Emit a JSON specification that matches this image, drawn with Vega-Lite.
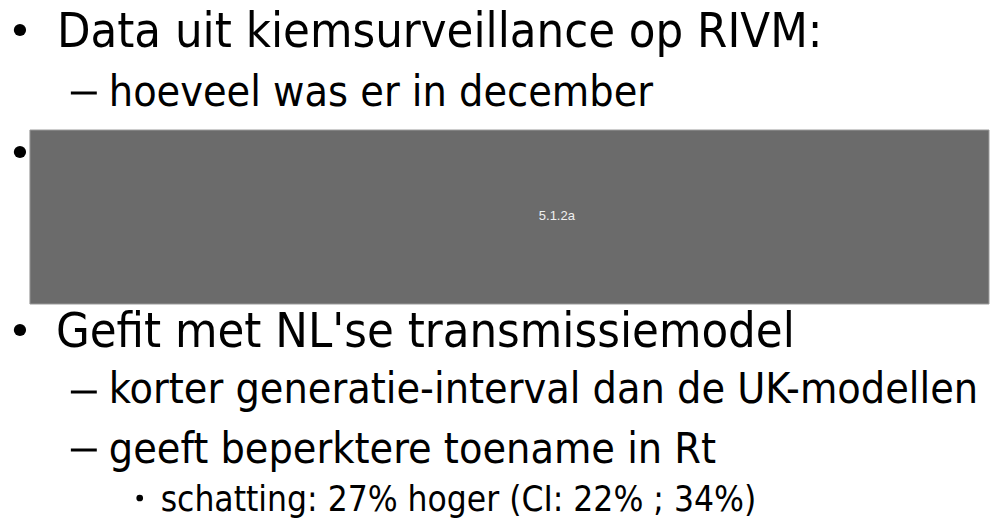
{
  "$schema": "https://vega.github.io/schema/vega-lite/v6.json",
  "width": 990,
  "height": 519,
  "autosize": {"type": "fit", "contains": "padding"},
  "padding": 0,
  "background": "white",
  "config": {"view": {"stroke": null}},
  "datasets": {
    "box": [{"x0": 30, "x1": 991, "y0": 130, "y1": 304, "label": "5.1.2a", "cx": 558, "cy": 216}],
    "lines": [
      {"level": 1, "tx": 57, "base": 47, "text": "Data uit kiemsurveillance op RIVM:"},
      {"level": 2, "tx": 109, "base": 106, "text": "hoeveel was er in december"},
      {"level": 1, "tx": 56, "base": 347, "text": "Gefit met NL'se transmissiemodel"},
      {"level": 2, "tx": 109, "base": 403, "text": "korter generatie-interval dan de UK-modellen"},
      {"level": 2, "tx": 109, "base": 463, "text": "geeft beperktere toename in Rt"},
      {"level": 3, "tx": 161, "base": 511, "text": "schatting: 27% hoger (CI: 22% ; 34%)"}
    ],
    "dashes": [
      {"d0": 71, "d1": 97, "dy": 93},
      {"d0": 71, "d1": 97, "dy": 392},
      {"d0": 71, "d1": 97, "dy": 450}
    ],
    "bullets": [
      {"level": 1, "bx": 20, "by": 30},
      {"level": 1, "bx": 20, "by": 152},
      {"level": 1, "bx": 20, "by": 330},
      {"level": 3, "bx": 140, "by": 498}
    ]
  },
  "layer": [
    {
      "data": {"name": "box"},
      "mark": {"type": "rect", "color": "#6b6b6b", "stroke": "#9a9a9a", "strokeWidth": 1},
      "encoding": {
        "x": {"field": "x0", "type": "quantitative", "scale": {"domain": [0, 990]}, "axis": null},
        "x2": {"field": "x1"},
        "y": {"field": "y0", "type": "quantitative", "scale": {"domain": [519, 0]}, "axis": null},
        "y2": {"field": "y1"}
      }
    },
    {
      "data": {"name": "box"},
      "mark": {"type": "text", "color": "#f0f0f0", "font": "Liberation Sans", "fontSize": 13, "align": "center", "baseline": "middle"},
      "encoding": {
        "x": {"field": "cx", "type": "quantitative", "scale": {"domain": [0, 990]}, "axis": null},
        "y": {"field": "cy", "type": "quantitative", "scale": {"domain": [519, 0]}, "axis": null},
        "text": {"field": "label"}
      }
    },
    {
      "data": {"name": "lines"},
      "transform": [{"filter": "datum.level == 1"}],
      "mark": {"type": "text", "color": "black", "font": "DejaVu Sans Condensed", "fontSize": 48.5, "align": "left", "baseline": "alphabetic"},
      "encoding": {
        "x": {"field": "tx", "type": "quantitative", "scale": {"domain": [0, 990]}, "axis": null},
        "y": {"field": "base", "type": "quantitative", "scale": {"domain": [519, 0]}, "axis": null},
        "text": {"field": "text"}
      }
    },
    {
      "data": {"name": "lines"},
      "transform": [{"filter": "datum.level == 2"}],
      "mark": {"type": "text", "color": "black", "font": "DejaVu Sans Condensed", "fontSize": 42.7, "align": "left", "baseline": "alphabetic"},
      "encoding": {
        "x": {"field": "tx", "type": "quantitative", "scale": {"domain": [0, 990]}, "axis": null},
        "y": {"field": "base", "type": "quantitative", "scale": {"domain": [519, 0]}, "axis": null},
        "text": {"field": "text"}
      }
    },
    {
      "data": {"name": "lines"},
      "transform": [{"filter": "datum.level == 3"}],
      "mark": {"type": "text", "color": "black", "font": "DejaVu Sans Condensed", "fontSize": 35, "align": "left", "baseline": "alphabetic"},
      "encoding": {
        "x": {"field": "tx", "type": "quantitative", "scale": {"domain": [0, 990]}, "axis": null},
        "y": {"field": "base", "type": "quantitative", "scale": {"domain": [519, 0]}, "axis": null},
        "text": {"field": "text"}
      }
    },
    {
      "data": {"name": "dashes"},
      "mark": {"type": "rule", "color": "black", "strokeWidth": 3},
      "encoding": {
        "x": {"field": "d0", "type": "quantitative", "scale": {"domain": [0, 990]}, "axis": null},
        "x2": {"field": "d1"},
        "y": {"field": "dy", "type": "quantitative", "scale": {"domain": [519, 0]}, "axis": null}
      }
    },
    {
      "data": {"name": "bullets"},
      "transform": [{"filter": "datum.level == 1"}],
      "mark": {"type": "point", "shape": "circle", "filled": true, "color": "black", "opacity": 1, "size": 150},
      "encoding": {
        "x": {"field": "bx", "type": "quantitative", "scale": {"domain": [0, 990]}, "axis": null},
        "y": {"field": "by", "type": "quantitative", "scale": {"domain": [519, 0]}, "axis": null}
      }
    },
    {
      "data": {"name": "bullets"},
      "transform": [{"filter": "datum.level == 3"}],
      "mark": {"type": "point", "shape": "circle", "filled": true, "color": "black", "opacity": 1, "size": 45},
      "encoding": {
        "x": {"field": "bx", "type": "quantitative", "scale": {"domain": [0, 990]}, "axis": null},
        "y": {"field": "by", "type": "quantitative", "scale": {"domain": [519, 0]}, "axis": null}
      }
    }
  ]
}
